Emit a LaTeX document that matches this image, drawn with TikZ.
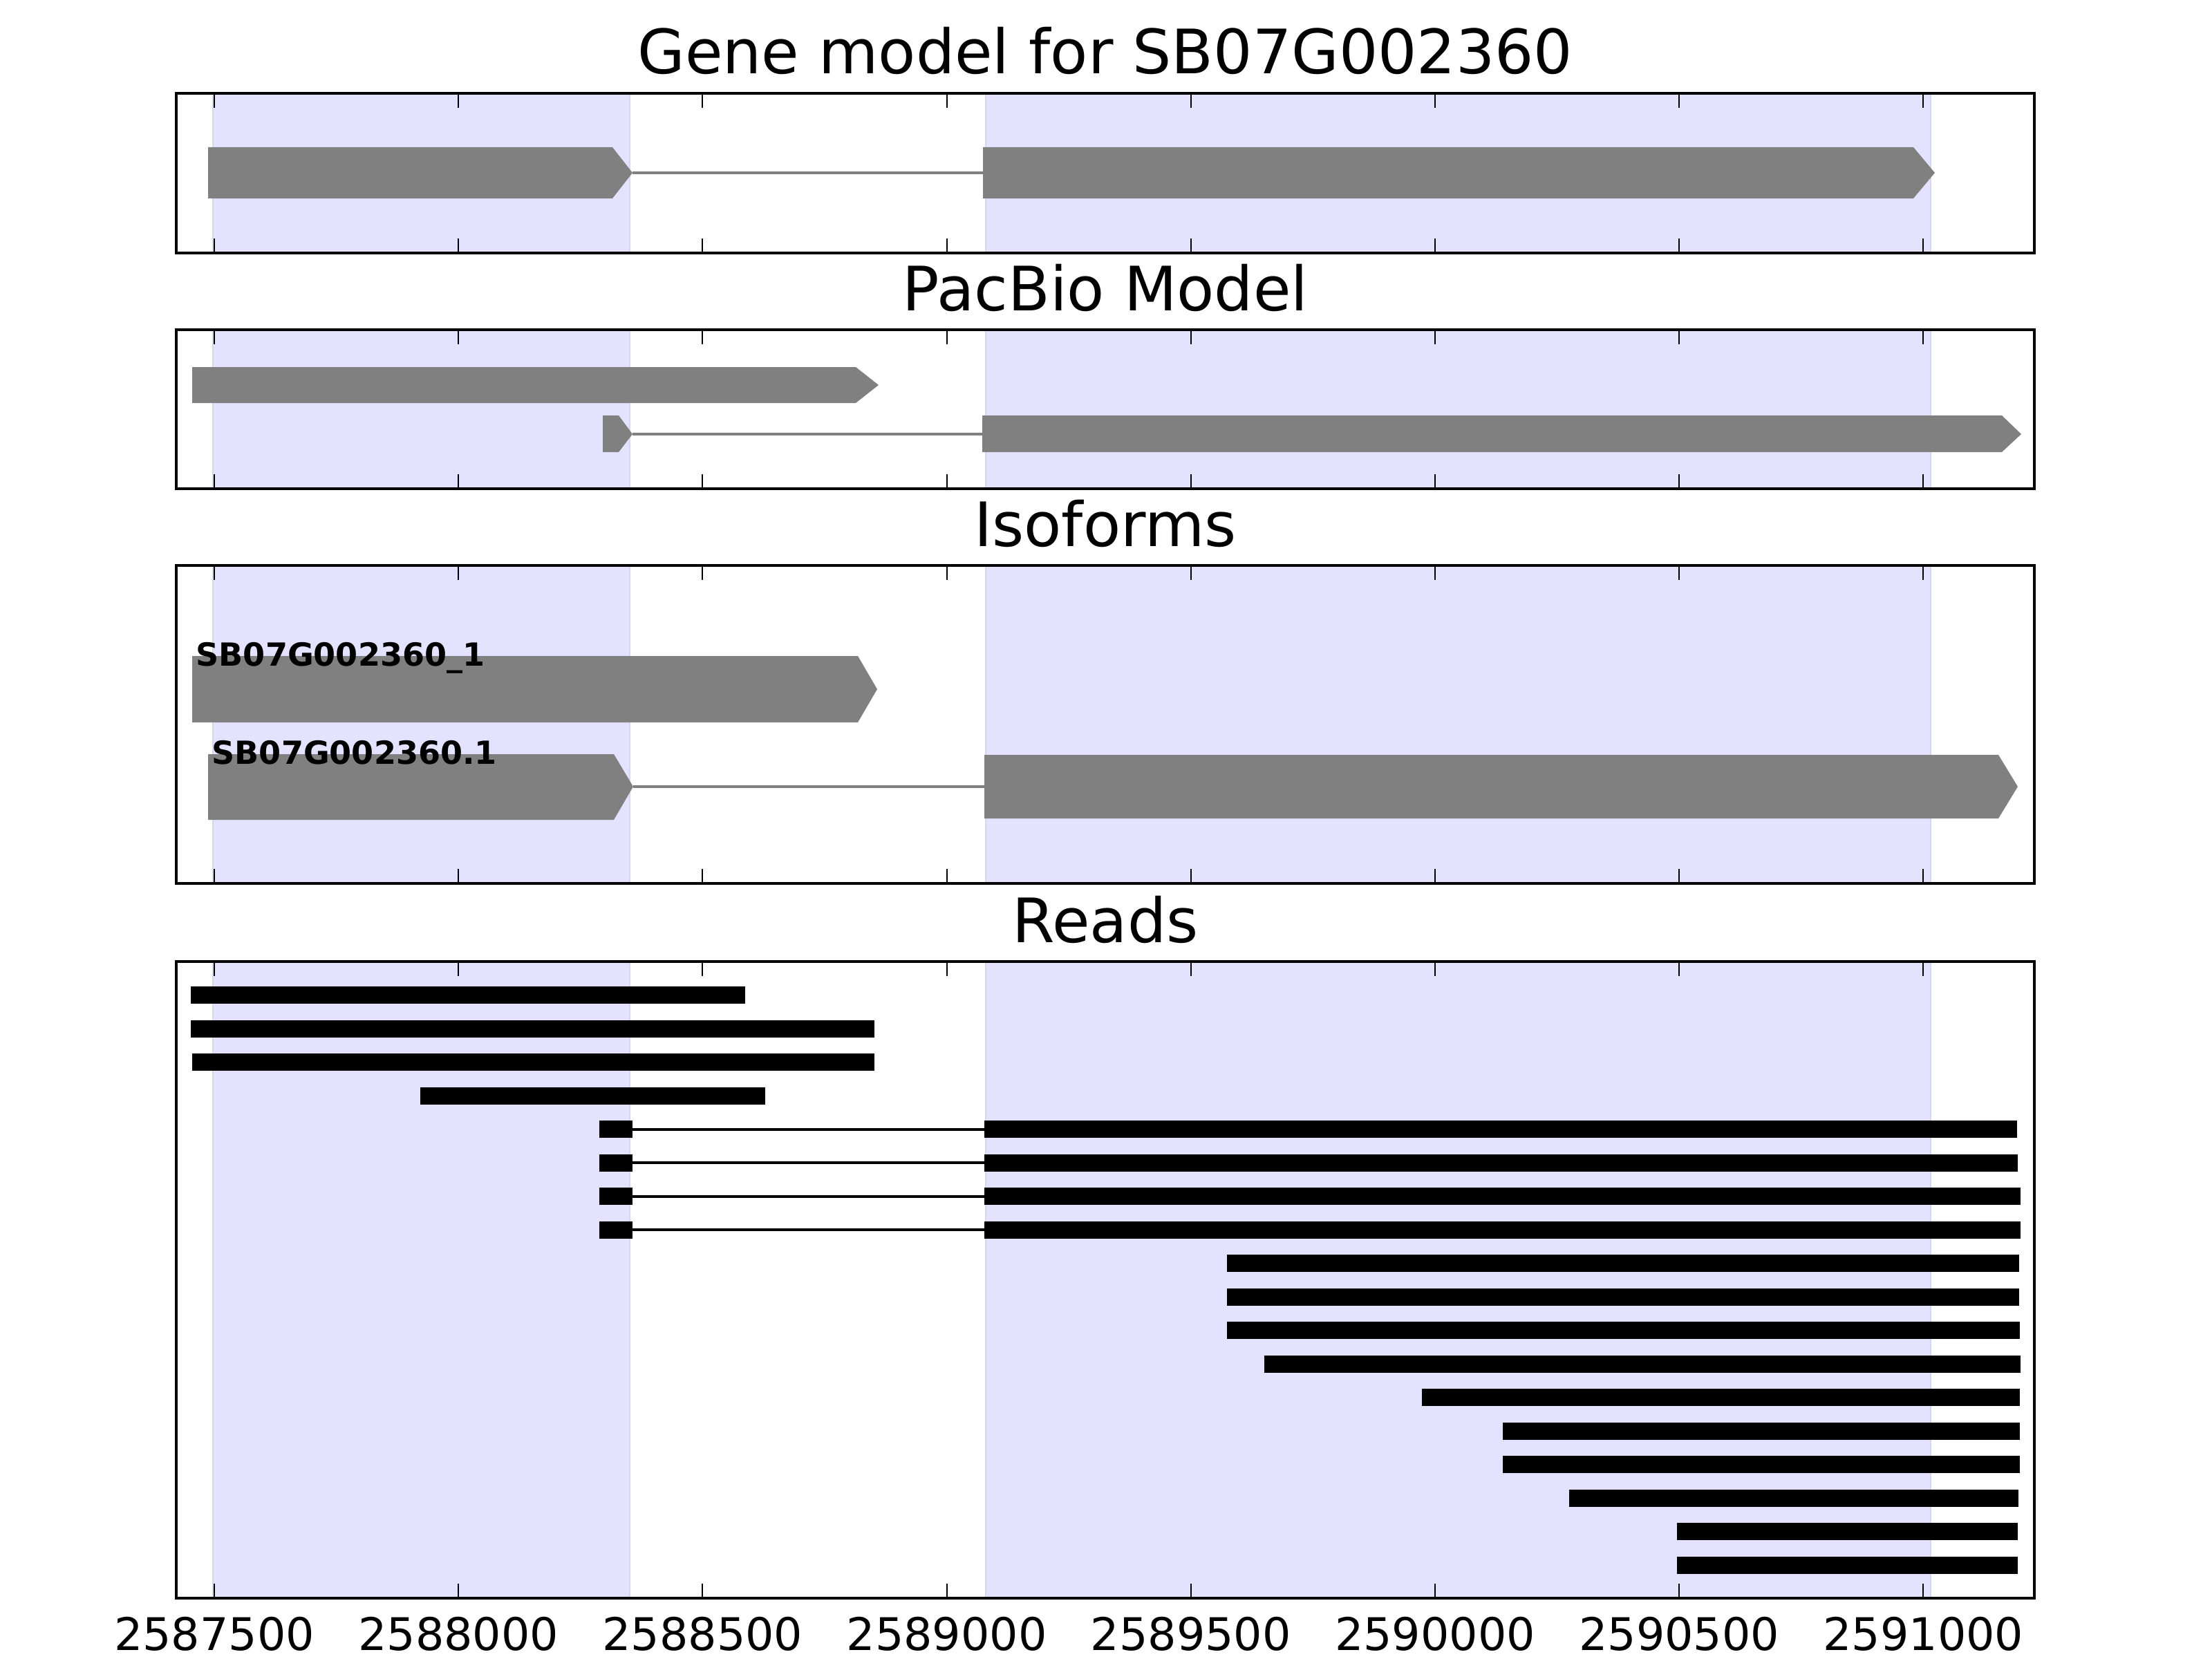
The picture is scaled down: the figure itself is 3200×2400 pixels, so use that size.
\documentclass[tikz,border=0pt]{standalone}
\usepackage{fontspec}
\setmainfont{DejaVu Sans}
\definecolor{exongray}{RGB}{128,128,128}
\definecolor{spanblue}{RGB}{227,227,255}
\definecolor{spanedge}{RGB}{214,214,236}

\begin{document}
\begin{tikzpicture}[x=0.01cm,y=-0.01cm,
      panel/.style={draw=black,line width=0.045cm},
      exon/.style={fill=exongray},
      intron/.style={draw=exongray,line width=0.045cm},
      readbar/.style={fill=black},
      readgap/.style={draw=black,line width=0.04cm},
      span/.style={fill=spanblue,draw=spanedge,line width=0.02cm},
      tickmark/.style={line width=0.02cm},
      paneltitle/.style={anchor=base,font=\fontsize{25.2}{30}\selectfont},
      ticklabel/.style={anchor=base,font=\fontsize{18.5}{22}\selectfont},
      isolabel/.style={anchor=base west,inner sep=0pt,font=\bfseries\fontsize{13.1}{15}\selectfont}]
      \useasboundingbox (0,0) rectangle (3200,2400);
      % four panels, shaded exons and inner ticks
      \foreach \top/\bot in {135/366,477/707,818/1278,1391/2312} {
        \path[span] (308,\top) rectangle (911,\bot);
        \path[span] (1426,\top) rectangle (2793,\bot);
        \foreach \i in {0,...,7}
          \draw[tickmark] ({310+353.2*\i},\top) -- ++(0,21)
            ({310+353.2*\i},\bot) -- ++(0,-21);
        \draw[panel] (255,\top) rectangle (2943,\bot);
      }
      \path (1599,107) node[paneltitle] (genetitle) {Gene model for SB07G002360};
      \path (1599,449) node[paneltitle] (pacbiotitle) {PacBio Model};
      \path (1599,790) node[paneltitle] (isotitle) {Isoforms};
      \path (1599,1363) node[paneltitle] (readstitle) {Reads};
      % gene model
      \fill[exon] (301,213) -- (886,213) -- (915,250) -- (886,287) -- (301,287) -- cycle;
      \draw[intron] (915,250) -- (1422,250);
      \fill[exon] (1422,213) -- (2768,213) -- (2799,250) -- (2768,287) -- (1422,287) -- cycle;
      % pacbio model
      \fill[exon] (278,531) -- (1238,531) -- (1271,557) -- (1238,583) -- (278,583) -- cycle;
      \fill[exon] (872,601) -- (895,601) -- (915,628) -- (895,654) -- (872,654) -- cycle;
      \draw[intron] (915,628) -- (1421,628);
      \fill[exon] (1421,601) -- (2896,601) -- (2924,628) -- (2896,654) -- (1421,654) -- cycle;
      % isoforms
      \fill[exon] (278,949) -- (1241,949) -- (1269,997) -- (1241,1045) -- (278,1045) -- cycle;
      \fill[exon] (301,1091) -- (888,1091) -- (916,1138) -- (888,1186) -- (301,1186) -- cycle;
      \draw[intron] (916,1138) -- (1424,1138);
      \fill[exon] (1424,1092) -- (2891,1092) -- (2919,1138) -- (2891,1184) -- (1424,1184) -- cycle;
      \path (283,963) node[isolabel] (iso1) {SB07G002360\_1};
      \path (306,1105) node[isolabel] (iso2) {SB07G002360.1};
      % reads
      \foreach \k/\a/\b in {0/276/1078,1/276/1265,2/278/1265,3/608/1107,
          8/1775/2921,9/1775/2921,10/1775/2922,11/1829/2923,12/2057/2922,
          13/2174/2922,14/2174/2922,15/2270/2920,16/2426/2919,17/2426/2919}
        \fill[readbar] (\a,{1427+48.5*\k}) rectangle (\b,{1452+48.5*\k});
      \foreach \k/\b in {4/2918,5/2919,6/2923,7/2923} {
        \fill[readbar] (867,{1427+48.5*\k}) rectangle (915,{1452+48.5*\k});
        \draw[readgap] (915,{1439.5+48.5*\k}) -- (1424,{1439.5+48.5*\k});
        \fill[readbar] (1424,{1427+48.5*\k}) rectangle (\b,{1452+48.5*\k});
      }
      % axis labels
      \foreach \i/\lab in {0/2587500,1/2588000,2/2588500,3/2589000,
          4/2589500,5/2590000,6/2590500,7/2591000}
        \path ({310+353.2*\i},2387) node[ticklabel] (tick\i) {\lab};
\end{tikzpicture}
\end{document}
